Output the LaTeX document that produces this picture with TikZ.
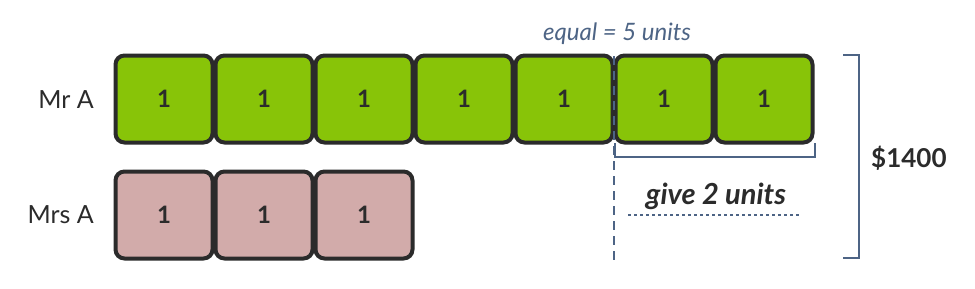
\documentclass[tikz,border=0pt]{standalone}
\usepackage{fontspec}
\setmainfont{Lato}
\begin{document}
\begin{tikzpicture}[x=1pt,y=-1pt,
  unitbox/.style={draw=boxline,line width=4pt,rounded corners=9pt,minimum width=97pt,minimum height=87pt,inner sep=0pt,font=\fontsize{24}{24}\selectfont\bfseries,text=boxline},
  greenbox/.style={unitbox,fill=greenfill},
  pinkbox/.style={unitbox,fill=pinkfill},
  namelabel/.style={anchor=east,font=\fontsize{25}{25}\selectfont,text=textdark,inner sep=0pt},
  slateline/.style={draw=slate,line width=2.5pt}]
\definecolor{boxline}{HTML}{2B2B2B}
\definecolor{greenfill}{HTML}{88C408}
\definecolor{pinkfill}{HTML}{D2ABAA}
\definecolor{slate}{HTML}{4D6485}
\definecolor{textdark}{HTML}{2B2B2B}
\useasboundingbox (0,0) rectangle (975,289);
\fill[white] (0,0) rectangle (975,289);
% Mr A boxes
\foreach \i in {1,...,7}{
  \node[greenbox] (g\i) at ({164+100*(\i-1)},99) {1};
}
\foreach \i in {1,2,3}{
  \node[pinkbox] (p\i) at ({164+100*(\i-1)},215) {1};
}
\node[namelabel] (mra) at (94,100) {Mr A};
\node[namelabel] (mrsa) at (94,215) {Mrs A};
% dashed divider
\coordinate (dtop) at (614,56);
\coordinate (dbot) at (614,265);
\draw[draw=slate,line width=2.5pt,dash pattern=on 9pt off 6pt] (dtop) -- (dbot);
% small bracket under boxes 6-7
\coordinate (sb1) at (615,143);
\coordinate (sb2) at (615,157);
\coordinate (sb3) at (815,157);
\coordinate (sb4) at (815,143);
\draw[slateline] (sb1) -- (sb2) -- (sb3) -- (sb4);
% equal label
\node[font=\fontsize{24}{24}\selectfont\itshape,text=slate,inner sep=0pt] (eq) at (617,34) {equal = 5 units};
% give 2 units
\node[font=\fontsize{29}{29}\selectfont\bfseries\itshape,text=textdark,inner sep=0pt] (give) at (716,196) {give 2 units};
\coordinate (dl1) at (628,215);
\coordinate (dl2) at (800,215);
\draw[draw=slate,line width=2.5pt,dash pattern=on 3pt off 3pt] (dl1) -- (dl2);
% big bracket
\coordinate (bb1) at (843,55);
\coordinate (bb2) at (859,55);
\coordinate (bb3) at (859,258);
\coordinate (bb4) at (843,258);
\draw[slateline] (bb1) -- (bb2) -- (bb3) -- (bb4);
\node[font=\fontsize{26}{26}\selectfont\bfseries,text=textdark,anchor=west,inner sep=0pt] (total) at (871,158) {\$1400};
\end{tikzpicture}
\end{document}
